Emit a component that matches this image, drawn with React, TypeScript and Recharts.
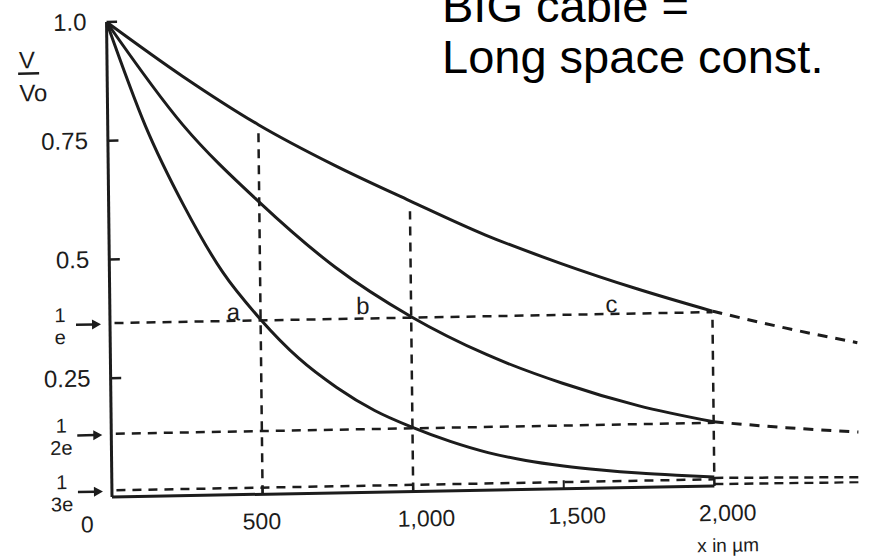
import React from 'react';
import { LineChart, Line, XAxis, YAxis, ReferenceLine, ReferenceDot } from 'recharts';

// distance along the cable (µm) and V/Vo
const distanceA = [0, 125, 250, 375, 500, 625, 750, 875, 1000, 1125, 1250, 1375, 1500, 1625, 1750, 1875, 2000];
const voltageA = [1.0, 0.78, 0.61, 0.47, 0.368, 0.285, 0.222, 0.172, 0.135, 0.104, 0.079, 0.061, 0.048, 0.038, 0.03, 0.024, 0.019];

const distanceBC = [0, 250, 500, 750, 1000, 1250, 1500, 1750, 2000];
const voltageB = [1.0, 0.78, 0.615, 0.475, 0.368, 0.285, 0.222, 0.172, 0.135];
const voltageC = [1.0, 0.883, 0.778, 0.69, 0.612, 0.537, 0.474, 0.418, 0.368];

// dashed continuations past 2,000 µm
const tailDistance = [2000, 2240, 2480];
const tailC = [0.368, 0.33, 0.296];
const tailB = [0.135, 0.12, 0.108];
const tailA = [0.017, 0.015, 0.013];
const tailAxis = [0.004, 0.003, 0.002];

// dashed guides: 1/e, "1/2e", "1/3e" levels and the drop lines
const guideLevels = [0.366, 0.133, 0.014];
const guideLevelDenoms = ['e', '2e', '3e'];
const dropX = [500, 1000, 2000];
const dropBottom = [0, 0, 0.03];
const dropTop = [0.765, 0.59, 0.35];

const yNumberTicks = [0.25, 0.5, 0.75, 1.0];
const yNumberLabels = ['0.25', '0.5', '0.75', '1.0'];
const xTicks = [0, 500, 1000, 1500, 2000];
const xTickLabels = ['0', '500', '1,000', '1,500', '2,000'];
const axisTickX = [500, 1000, 1500];

const curveNames = ['a', 'b', 'c'];
const curveLabelX = [410, 840, 1665];
const curveLabelY = [0.385, 0.393, 0.387];

const INK = '#1c1c1c';
const FONT = '"Liberation Sans", Arial, Helvetica, sans-serif';

const pts = (xs: number[], vs: number[]) => xs.map((x, i) => ({ x, v: vs[i] }));

const YTick = (props: any) => {
  const { x, y, payload } = props;
  const v = payload.value;
  const ni = yNumberTicks.indexOf(v);
  if (ni >= 0) {
    return (
      <text x={x - 20} y={y + 8} textAnchor="end" fontSize={24} fill={INK} fontFamily={FONT}>
        {yNumberLabels[ni]}
      </text>
    );
  }
  const fi = guideLevels.indexOf(v);
  if (fi < 0) return <g />;
  return (
    <g>
      <text x={x - 50} y={y - 2} textAnchor="middle" fontSize={20} fill={INK} fontFamily={FONT}>1</text>
      <text x={x - 50} y={y + 20} textAnchor="middle" fontSize={20} fill={INK} fontFamily={FONT}>
        {guideLevelDenoms[fi]}
      </text>
      <line x1={x - 34} x2={x - 16} y1={y + 1} y2={y + 1} stroke={INK} strokeWidth={2.5} />
      <path d={`M${x - 18},${y - 4} L${x - 9},${y + 1} L${x - 18},${y + 6} Z`} fill={INK} />
    </g>
  );
};

const XTick = (props: any) => {
  const { x, y, payload } = props;
  const v = payload.value;
  const i = xTicks.indexOf(v);
  const dx = v === 0 ? -25 : v >= 1000 ? 13 : -1;
  return (
    <g>
      <text x={x + dx} y={y + 35} textAnchor="middle" fontSize={23} fill={INK} fontFamily={FONT}>
        {xTickLabels[i]}
      </text>
      {v === 2000 && (
        <text x={x + dx} y={y + 66} textAnchor="middle" fontSize={19} fill={INK} fontFamily={FONT}>
          x in µm
        </text>
      )}
    </g>
  );
};

const YLabel = (props: any) => {
  const { viewBox } = props;
  const left = viewBox.x + viewBox.width - 88;
  const top = viewBox.y;
  return (
    <g>
      <text x={left} y={top + 45} fontSize={24} fill={INK} fontFamily={FONT}>V</text>
      <line x1={left - 1} x2={left + 20} y1={top + 50} y2={top + 50} stroke={INK} strokeWidth={2.5} />
      <text x={left} y={top + 78} fontSize={24} fill={INK} fontFamily={FONT}>Vo</text>
    </g>
  );
};

export default function App() {
  return (
    <div style={{ position: 'fixed', left: 0, top: 0, width: 871, height: 559, background: '#fff', overflow: 'hidden' }}>
      {/* the scanned figure sits slightly askew */}
      <div style={{ position: 'absolute', left: 0, top: 0, transform: 'matrix(1, -0.0183, 0.0115, 1, 0, 0)', transformOrigin: '112px 497px' }}>
        <LineChart width={871} height={620} margin={{ top: 22, right: 6, bottom: 83, left: 52 }}>
          <XAxis
            type="number"
            dataKey="x"
            domain={[0, 2500]}
            ticks={xTicks}
            interval={0}
            tick={(p: any) => <XTick {...p} />}
            axisLine={false}
            tickLine={false}
            tickSize={0}
            tickMargin={0}
            height={40}
            allowDataOverflow
          />
          <YAxis
            type="number"
            domain={[0, 1]}
            ticks={[...guideLevels, ...yNumberTicks]}
            interval={0}
            tick={(p: any) => <YTick {...p} />}
            axisLine={{ stroke: INK, strokeWidth: 3 }}
            tickLine={false}
            tickSize={0}
            tickMargin={0}
            width={60}
            allowDataOverflow
            label={{ content: (p: any) => <YLabel {...p} /> }}
          />

          {guideLevels.map((lv) => (
            <ReferenceLine
              key={`h${lv}`}
              segment={[{ x: 15, y: lv }, { x: 2000, y: lv }]}
              stroke={INK}
              strokeWidth={2.5}
              strokeDasharray="9 7"
            />
          ))}
          {dropX.map((dx, i) => (
            <ReferenceLine
              key={`v${dx}`}
              segment={[{ x: dx, y: dropBottom[i] }, { x: dx, y: dropTop[i] }]}
              stroke={INK}
              strokeWidth={2.5}
              strokeDasharray="9 7"
            />
          ))}
          {axisTickX.map((tx) => (
            <ReferenceLine key={`t${tx}`} segment={[{ x: tx, y: 0 }, { x: tx, y: 0.018 }]} stroke={INK} strokeWidth={2} />
          ))}
          {yNumberTicks.map((ty) => (
            <ReferenceLine key={`y${ty}`} segment={[{ x: 0, y: ty }, { x: 35, y: ty }]} stroke={INK} strokeWidth={2.5} />
          ))}
          <ReferenceLine segment={[{ x: 0, y: 0 }, { x: 2000, y: 0 }]} stroke={INK} strokeWidth={3} />
          <ReferenceLine segment={[{ x: 2000, y: 0 }, { x: 2000, y: 0.019 }]} stroke={INK} strokeWidth={2.5} />

          <Line data={pts(distanceA, voltageA)} dataKey="v" type="monotone" stroke={INK} strokeWidth={3} dot={false} isAnimationActive={false} />
          <Line data={pts(distanceBC, voltageB)} dataKey="v" type="monotone" stroke={INK} strokeWidth={3} dot={false} isAnimationActive={false} />
          <Line data={pts(distanceBC, voltageC)} dataKey="v" type="monotone" stroke={INK} strokeWidth={3} dot={false} isAnimationActive={false} />
          <Line data={pts(tailDistance, tailC)} dataKey="v" type="monotone" stroke={INK} strokeWidth={3} strokeDasharray="10 8" dot={false} isAnimationActive={false} />
          <Line data={pts(tailDistance, tailB)} dataKey="v" type="monotone" stroke={INK} strokeWidth={3} strokeDasharray="10 8" dot={false} isAnimationActive={false} />
          <Line data={pts(tailDistance, tailA)} dataKey="v" type="linear" stroke={INK} strokeWidth={2.5} strokeDasharray="9 6" dot={false} isAnimationActive={false} />
          <Line data={pts(tailDistance, tailAxis)} dataKey="v" type="linear" stroke={INK} strokeWidth={2.5} strokeDasharray="9 6" dot={false} isAnimationActive={false} />

          {curveNames.map((n, i) => (
            <ReferenceDot
              key={n}
              x={curveLabelX[i]}
              y={curveLabelY[i]}
              r={0}
              fill="none"
              stroke="none"
              label={{ value: n, position: 'center', fontSize: 24, fill: INK, fontFamily: FONT }}
            />
          ))}
        </LineChart>
      </div>
      <svg width={871} height={559} style={{ position: 'absolute', left: 0, top: 0, pointerEvents: 'none' }}>
        <text x={442} y={22} fontSize={47} fill="#000" fontFamily={FONT}>BIG cable =</text>
        <text x={442} y={73} fontSize={47} fill="#000" fontFamily={FONT}>Long space const.</text>
      </svg>
    </div>
  );
}
